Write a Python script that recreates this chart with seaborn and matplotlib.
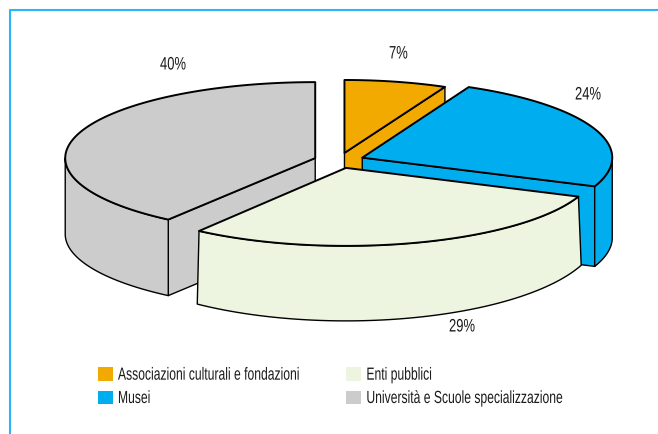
import numpy as np
import matplotlib
matplotlib.use("Agg")
import matplotlib.pyplot as plt
import matplotlib.patheffects as pe
from matplotlib.patches import Patch, Polygon
from matplotlib.transforms import Affine2D
import seaborn as sns

# -----------------------------
# Data
# -----------------------------
CATEGORIES = ["Associazioni culturali e fondazioni", "Musei", "Enti pubblici",
              "Università e Scuole specializzazione"]
VALUES = [7, 24, 29, 40]
COLORS = ["#F2A900", "#00AEEF", "#EDF4DF", "#CCCCCC"]

# -----------------------------
# Layout of the fake 3D pie (pixels)
# -----------------------------
CX, CY = 339, 160.5
RX, RY = 250, 77
EXPLODE = 0.1
TOP_RX = [236, 250, 250, 250]
TOP_RY = [73, 78, 78, 76]
DEPTH = [78, 80, 65, 76]
BOTTOM_RX = [236, 250, 253, 250]
BOTTOM_RY = [73, 78, 88, 76]
DRAW_ORDER = [0, 1, 3, 2]
LABEL_POS = [(389, 54), (575, 95), (449, 327), (160, 65)]
TEXT_COLOR = "#1a1a1a"


class Squeeze(pe.AbstractPathEffect):
    # no condensed font installed, so narrow the glyphs of the real text
    def __init__(self, sx, sy=1.0):
        super().__init__()
        self.sx = sx
        self.sy = sy

    def draw_path(self, renderer, gc, tpath, affine, rgbFace=None):
        renderer.draw_path(gc, tpath, Affine2D().scale(self.sx, self.sy) + affine, rgbFace)


sns.set_theme(style="white")
plt.rcParams["font.family"] = ["Liberation Sans", "DejaVu Sans"]
palette = sns.color_palette(COLORS)

fig, ax = plt.subplots(figsize=(6.58, 4.34), dpi=100)
ax.set_position([0, 0, 1, 1])
ax.set_xlim(0, 658)
ax.set_ylim(434, 0)
ax.axis("off")

# border, only left and top
ax.plot([10, 10, 658], [434, 10, 10], color="#29B6F6", lw=1.5)


def ring(cx, cy, rx, ry, t):
    t = np.radians(t)
    return np.column_stack([cx + rx * np.sin(t), cy - ry * np.cos(t)])


def face(points, color, lw=1.0, z=1):
    ax.add_patch(Polygon(points, closed=True, facecolor=color, edgecolor="black",
                         lw=lw, joinstyle="round", zorder=z))


# slice angles, clockwise from 12 o'clock
shares = np.array(VALUES) / sum(VALUES) * 360
ends = np.cumsum(shares)
starts = ends - shares

for z, i in enumerate(DRAW_ORDER):
    t0, t1 = starts[i], ends[i]
    mid = np.radians((t0 + t1) / 2)
    cx = CX + EXPLODE * RX * np.sin(mid)
    cy = CY - EXPLODE * RY * np.cos(mid)
    d = DEPTH[i]
    top = lambda t: ring(cx, cy, TOP_RX[i], TOP_RY[i], t)
    bot = lambda t: ring(cx, cy + d, BOTTOM_RX[i], BOTTOM_RY[i], t)
    c = palette[i]
    base = z * 10

    # radial walls, only the ones turned to the viewer
    if np.sin(np.radians(t0)) < -1e-6:
        face(np.vstack([[[cx, cy]], top([t0]), bot([t0]), [[cx, cy + d]]]), c, z=base + 1)
    if np.sin(np.radians(t1)) > 1e-6:
        face(np.vstack([[[cx, cy]], top([t1]), bot([t1]), [[cx, cy + d]]]), c, z=base + 1)

    # outer wall, front half of the ellipse only
    a, b = max(t0, 90), min(t1, 270)
    if a < b:
        tt = np.linspace(a, b, 60)
        face(np.vstack([top(tt), bot(tt)[::-1]]), c, z=base + 2)

    # top face
    tt = np.linspace(t0, t1, 120)
    face(np.vstack([[[cx, cy]], top(tt)]), c, lw=1.4, z=base + 3)

for (x, y), v in zip(LABEL_POS, VALUES):
    ax.text(x, y, f"{v}%", ha="left", va="center", fontsize=13, color=TEXT_COLOR, zorder=100,
            path_effects=[Squeeze(0.72)])

handles = [Patch(facecolor=c, edgecolor="none", label=n) for c, n in zip(palette, CATEGORIES)]
leg = ax.legend(handles=handles, ncol=2, frameon=False, loc="lower left",
                bbox_to_anchor=(98, 406), bbox_transform=ax.transData, borderpad=0, borderaxespad=0,
                fontsize=11.5, handlelength=0.94, handleheight=0.94, handletextpad=0.31,
                columnspacing=-0.69, labelspacing=0.5, labelcolor=TEXT_COLOR)
for t in leg.get_texts():
    t.set_path_effects([Squeeze(0.76, 1.1)])

plt.savefig("out.png", dpi=100)
